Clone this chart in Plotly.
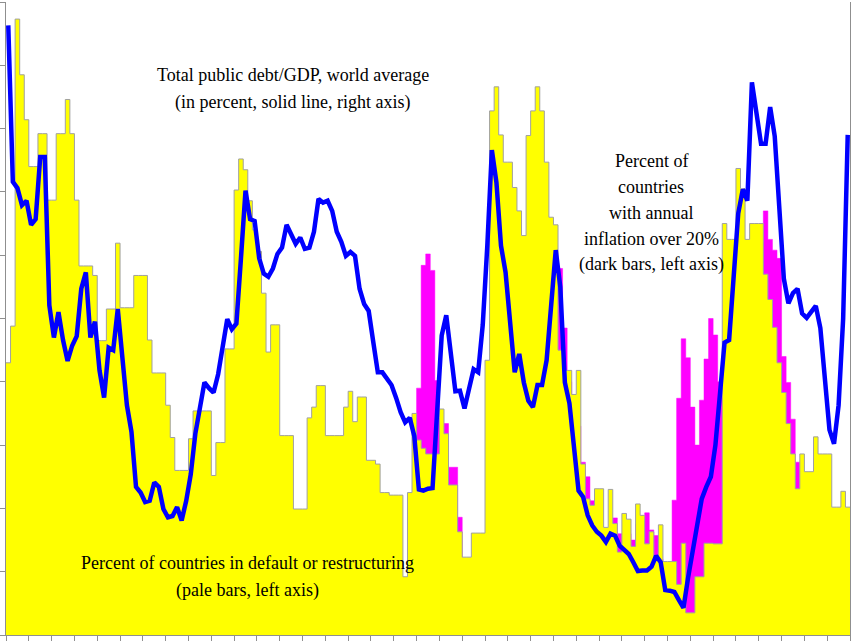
import plotly.graph_objects as go

years = list(range(1826, 2011))

# Percent of countries in default or restructuring (pale bars, left axis)
default_pct = [
    43.0, 48.8, 97.3, 88.5, 81.4, 74.0, 74.0, 79.2, 79.2, 68.7,   # 1826-1835
    68.7, 79.2, 79.2, 84.6, 79.2, 68.7, 58.3, 58.3, 58.3, 56.8,   # 1836-1845
    46.5, 46.5, 51.5, 51.5, 61.9, 51.7, 51.7, 51.7, 56.8, 56.8,   # 1846-1855
    56.8, 46.6, 41.4, 41.4, 41.4, 36.3, 31.2, 26.0, 26.0, 26.0,   # 1856-1865
    31.0, 35.4, 35.4, 35.4, 35.4, 25.2, 30.4, 30.4, 45.2, 45.2,   # 1866-1875
    70.3, 75.2, 73.5, 68.6, 64.0, 60.6, 54.0, 44.7, 49.0, 49.0,   # 1876-1885
    31.5, 31.5, 31.5, 19.9, 19.9, 19.9, 34.3, 36.0, 39.4, 39.4,   # 1886-1895
    31.5, 31.5, 31.5, 31.5, 36.0, 38.5, 33.7, 37.6, 37.6, 27.6,   # 1896-1905
    27.6, 27.0, 22.5, 22.5, 22.1, 22.1, 22.1, 9.2, 22.5, 35.0,    # 1906-1915
    30.8, 29.5, 28.6, 28.6, 28.6, 35.7, 31.8, 23.7, 23.7, 16.3,   # 1916-1925
    12.3, 12.3, 16.1, 16.1, 16.1, 43.4, 82.8, 86.6, 79.0, 74.7,   # 1926-1935
    74.7, 70.7, 67.0, 63.1, 78.9, 82.8, 86.6, 82.8, 74.7, 66.0,   # 1936-1945
    64.8, 45.0, 41.8, 41.8, 38.0, 41.8, 27.0, 21.5, 20.5, 23.1,   # 1946-1955
    23.1, 17.0, 23.0, 17.6, 13.1, 19.2, 18.3, 14.0, 20.7, 18.9,   # 1956-1965
    14.4, 16.3, 11.8, 17.4, 11.6, 11.6, 11.6, 8.0, 14.5, 3.5,     # 1966-1975
    3.5, 9.2, 9.2, 14.5, 14.5, 14.4, 14.4, 65.0, 62.5, 62.5,      # 1976-1985
    73.7, 70.5, 62.5, 65.0, 65.0, 65.0, 57.0, 53.0, 48.6, 43.0,   # 1986-1995
    38.3, 33.4, 28.6, 23.1, 28.6, 25.8, 25.8, 31.3, 28.6, 28.6,   # 1996-2005
    28.6, 20.2, 20.2, 22.7, 20.2,                                 # 2006-2010
]

# Percent of countries with annual inflation over 20% (dark bars, left axis)
inflation_pct = [0.0] * 88 + [                                    # 1826-1913
    0.0, 15.0, 39.0, 58.4, 60.2, 57.6, 40.2, 33.0, 33.4, 26.5, 26.5, 18.6,  # 1914-1925
    10.0, 8.0, 6.0, 6.0, 8.0, 12.0, 15.0, 15.0, 12.0, 10.0,       # 1926-1935
    10.0, 12.0, 15.0, 20.0, 25.0, 30.0, 35.0, 40.0, 45.0, 50.0,   # 1936-1945
    55.0, 57.9, 48.5, 40.0, 36.0, 33.0, 27.3, 25.0, 21.2, 15.0,   # 1946-1955
    15.0, 14.0, 16.0, 18.5, 16.0, 15.0, 16.0, 15.0, 17.5, 18.0,   # 1956-1965
    19.3, 16.6, 15.7, 12.0, 10.0, 11.0, 21.3, 37.4, 46.8, 43.8,   # 1966-1975
    36.0, 30.0, 37.1, 43.6, 50.0, 47.4, 40.0, 40.0, 38.0, 42.0,   # 1976-1985
    45.0, 50.0, 55.0, 58.0, 60.0, 62.0, 67.0, 62.5, 60.8, 59.5,   # 1986-1995
    44.0, 39.9, 34.1, 27.3, 20.0, 18.0, 15.0, 12.0, 10.0, 8.0,    # 1996-2005
    6.0, 5.0, 6.0, 5.0, 4.0,                                      # 2006-2010
]

# Total public debt/GDP, world average (solid line, right axis)
debt_gdp = [
    96.3, 71.6, 70.6, 67.9, 68.6, 64.8, 65.7, 75.5, 75.5, 52.1,   # 1826-1835
    47.0, 51.0, 46.6, 43.3, 45.7, 47.2, 54.7, 57.3, 47.0, 49.5,   # 1836-1845
    41.8, 37.5, 45.4, 45.0, 51.5, 43.4, 36.3, 32.1, 23.4, 22.5,   # 1846-1855
    21.0, 21.2, 24.1, 23.4, 19.9, 18.6, 18.8, 20.2, 18.1, 21.2,   # 1856-1865
    25.4, 31.8, 36.3, 39.9, 39.0, 38.3, 41.2, 45.4, 49.9, 48.3,   # 1866-1875
    49.2, 59.5, 70.2, 65.7, 65.4, 59.5, 57.1, 56.6, 57.9, 60.2,   # 1876-1885
    61.2, 64.8, 63.1, 61.8, 62.8, 61.0, 61.2, 63.7, 68.9, 68.3,   # 1886-1895
    68.6, 67.0, 63.7, 62.1, 59.9, 60.5, 59.9, 54.7, 52.3, 51.2,   # 1896-1905
    46.3, 41.5, 41.5, 40.5, 39.5, 37.5, 35.2, 33.6, 34.3, 31.4,   # 1906-1915
    23.0, 22.8, 23.1, 23.2, 36.0, 47.3, 50.5, 44.0, 38.5, 38.6,   # 1916-1925
    35.8, 38.9, 42.0, 41.5, 49.0, 61.5, 76.6, 71.5, 61.5, 57.3,   # 1926-1935
    49.9, 41.5, 44.4, 39.9, 37.0, 36.0, 39.5, 39.5, 43.4, 52.5,   # 1936-1945
    60.8, 55.0, 39.9, 36.6, 29.2, 22.8, 21.8, 18.9, 17.3, 16.3,   # 1946-1955
    15.7, 14.7, 16.0, 15.7, 14.1, 13.4, 12.8, 11.5, 10.1, 10.2,   # 1956-1965
    10.2, 10.8, 12.5, 11.5, 7.1, 7.0, 6.8, 5.5, 4.3, 9.0,         # 1966-1975
    13.0, 16.8, 21.5, 23.4, 25.0, 30.0, 38.5, 46.2, 46.6, 56.3,   # 1976-1985
    66.6, 70.4, 68.6, 87.3, 82.5, 77.6, 77.6, 83.4, 78.8, 66.0,   # 1986-1995
    56.3, 52.4, 54.0, 54.7, 50.8, 50.1, 51.0, 52.0, 48.5, 40.1,   # 1996-2005
    32.4, 30.2, 36.3, 50.0, 79.0,                                 # 2006-2010
]

# step outlines: each yearly bar spans [year-0.5, year+0.5]
edges = [y - 0.5 for y in years] + [years[-1] + 0.5]


def steps(vals):
    return vals + [vals[-1]]


fig = go.Figure()

fig.add_trace(go.Scatter(
    x=edges, y=steps(inflation_pct), mode="lines", line_shape="hv",
    fill="tozeroy", fillcolor="#FF00FF",
    line=dict(color="#FF00FF", width=0.5), hoverinfo="skip", showlegend=False,
))
fig.add_trace(go.Scatter(
    x=edges, y=steps(default_pct), mode="lines", line_shape="hv",
    fill="tozeroy", fillcolor="#FFFF00",
    line=dict(color="#A0A0A0", width=1), hoverinfo="skip", showlegend=False,
))
fig.add_trace(go.Scatter(
    x=years, y=debt_gdp, mode="lines", yaxis="y2",
    line=dict(color="#0000FF", width=4.5), showlegend=False,
))

serif = "Liberation Serif"
notes = [
    (1888.3, 88.4, "Total public debt/GDP, world average"),
    (1888.3, 84.2, "(in percent, solid line, right axis)"),
    (1966.9, 74.9, "Percent of"),
    (1966.9, 70.8, "countries"),
    (1966.9, 66.7, "with annual"),
    (1966.9, 62.6, "inflation over 20%"),
    (1966.9, 58.5, "(dark bars, left axis)"),
    (1878.5, 11.3, "Percent of countries in default or restructuring"),
    (1878.5, 7.1, "(pale bars, left axis)"),
]
for x, y, t in notes:
    fig.add_annotation(x=x, y=y, text=t, showarrow=False,
                       font=dict(family=serif, size=18, color="black"))

axis_col = "#8F8F8F"
fig.update_layout(
    width=851, height=641,
    margin=dict(l=6, r=1, t=2, b=6),
    paper_bgcolor="white", plot_bgcolor="white",
    xaxis=dict(range=[1825.5, 2010.5], showgrid=False, zeroline=False,
               showline=True, linecolor=axis_col, linewidth=1,
               ticks="outside", ticklen=5, tickcolor=axis_col,
               tick0=1825.5, dtick=5, showticklabels=False),
    yaxis=dict(range=[0, 100], showgrid=False, zeroline=False,
               showline=True, linecolor=axis_col, linewidth=1,
               ticks="outside", ticklen=5, tickcolor=axis_col,
               tick0=0, dtick=10, showticklabels=False),
    yaxis2=dict(range=[0, 100], overlaying="y", side="right",
                showgrid=False, zeroline=False, showline=True,
                linecolor=axis_col, linewidth=1, showticklabels=False,
                ticks=""),
)

fig.write_html("out.html")
